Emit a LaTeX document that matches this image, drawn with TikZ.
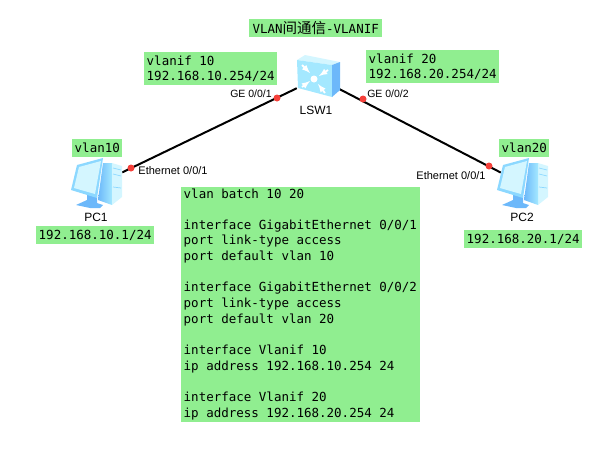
\documentclass[tikz,border=0pt]{standalone}
\usepackage{fontspec}
\setmainfont{Liberation Sans}
\setmonofont{DejaVu Sans Mono}
\newfontfamily\cjkfont{Noto Sans CJK SC}
\usetikzlibrary{arrows,positioning}
\definecolor{notegreen}{HTML}{90EE90}
\definecolor{portred}{HTML}{F5403A}
\definecolor{iconpale}{HTML}{D4F6FF}
\definecolor{iconlight}{HTML}{A4E8FF}
\definecolor{iconmid}{HTML}{8CD8FF}
\definecolor{icondark}{HTML}{6CB8FA}
\tikzstyle{note}=[fill=notegreen, font=\fontsize{12.5}{15.7}\selectfont\ttfamily, align=left, inner xsep=2.5pt, inner ysep=0pt, minimum height=18pt, anchor=north west]
\tikzstyle{port}=[font=\fontsize{10.5}{12}\selectfont, inner sep=0pt]
\tikzstyle{devname}=[font=\fontsize{12}{14}\selectfont, inner sep=0pt]
\tikzstyle{sv}=[circle, fill=portred, inner sep=0pt, minimum size=7pt]
\tikzstyle{device}=[inner sep=0pt, minimum height=42pt]
\tikzstyle{link}=[line width=2pt, black]
\newcommand{\pcicon}[2]{%
  \begin{scope}[shift={(#1,#2)}]
    % tower
    \fill[iconpale] (42,5) -- (52,8) -- (52,39) -- (42,47) -- cycle;
    \shade[left color=icondark, right color=iconlight] (33,5) -- (42,5) -- (42,47) -- (28,42) -- cycle;
    \draw[iconmid, line width=.7pt] (43,10) -- (51,12) (43,16) -- (51,18) (43,29) -- (51,30);
    % stand
    \fill[icondark] (17,36) -- (27,38) -- (27,45) -- (33,47) -- (30,50) -- (20,50) -- (6,47) -- (17,42) -- cycle;
    % screen
    \fill[iconmid] (7,7) -- (33,0) -- (27,40) -- (1,32) -- cycle;
    \fill[iconpale] (9,9) -- (31,3) -- (25,36) -- (4,30) -- cycle;
  \end{scope}}
\newcommand{\switchicon}[2]{%
  \begin{scope}[shift={(#1,#2)}]
    \fill[iconpale] (0,5) -- (8,0) -- (43,7) -- (35,10) -- cycle;
    \fill[iconlight] (0,5) -- (35,10) -- (35,42) -- (1,33) -- cycle;
    \fill[icondark] (35,10) -- (43,7) -- (43,35) -- (35,42) -- cycle;
    \fill[white] (17,24) circle (3.5);
    \draw[white, line width=1.8pt, -latex] (5,10) -- (13,18);
    \draw[white, line width=1.8pt, -latex] (31,15) -- (22,21);
    \draw[white, line width=1.8pt, -latex] (5,32) -- (13,26);
    \draw[white, line width=1.8pt, -latex] (28,38) -- (21,29);
  \end{scope}}
\begin{document}
\begin{tikzpicture}[x=1pt, y=-1pt]
\useasboundingbox (0,0) rectangle (610,453);
\node[note, minimum width=133pt] (title) at (249,19) {VLAN{\cjkfont\fontsize{14.5}{15}\selectfont 间通信}-VLANIF};
\node[note, minimum height=33pt] (ifnote1) at (144,52) {vlanif 10\\192.168.10.254/24};
\node[note, minimum height=33pt] (ifnote2) at (366,50) {vlanif 20\\192.168.20.254/24};
\node[note] (vlanpc1) at (72,139) {vlan10};
\node[note] (vlanpc2) at (499,139) {vlan20};
\node[note] (addr1) at (36,226) {192.168.10.1/24};
\node[note] (addr2) at (464,230) {192.168.20.1/24};
\node[note, inner ysep=2pt] (config) at (181,187) {vlan batch 10 20\\[14.7pt]
interface GigabitEthernet 0/0/1\\
port link-type access\\
port default vlan 10\\[15.7pt]
interface GigabitEthernet 0/0/2\\
port link-type access\\
port default vlan 20\\[15.7pt]
interface Vlanif 10\\
ip address 192.168.10.254 24\\[15.7pt]
interface Vlanif 20\\
ip address 192.168.20.254 24};
% devices, links go behind the icons
\node[device, minimum width=42pt] (lsw1) at (318,78) {};
\node[device, minimum width=52pt] (pc1) at (96,185) {};
\node[device, minimum width=40pt] (pc2) at (521,183) {};
\draw[link] (pc1) -- (lsw1);
\draw[link] (lsw1) -- (pc2);
\switchicon{297}{55}
\pcicon{70}{158}
\pcicon{496}{158}
\node[sv] (p1) at (277,98) {};
\node[sv] (p2) at (363,99) {};
\node[sv] (p3) at (131,168) {};
\node[sv] (p4) at (489,166) {};
\node[port] (ge1) at (251,94) {GE 0/0/1};
\node[port] (ge2) at (388,94) {GE 0/0/2};
\node[port, font=\fontsize{11}{12}\selectfont] (eth1) at (173,171) {Ethernet 0/0/1};
\node[port, font=\fontsize{11}{12}\selectfont] (eth2) at (451,176) {Ethernet 0/0/1};
\node[devname] (lsw1name) at (316,110) {LSW1};
\node[devname] (pcname1) at (96,217) {PC1};
\node[devname] (pcname2) at (522,217) {PC2};
\end{tikzpicture}
\end{document}
